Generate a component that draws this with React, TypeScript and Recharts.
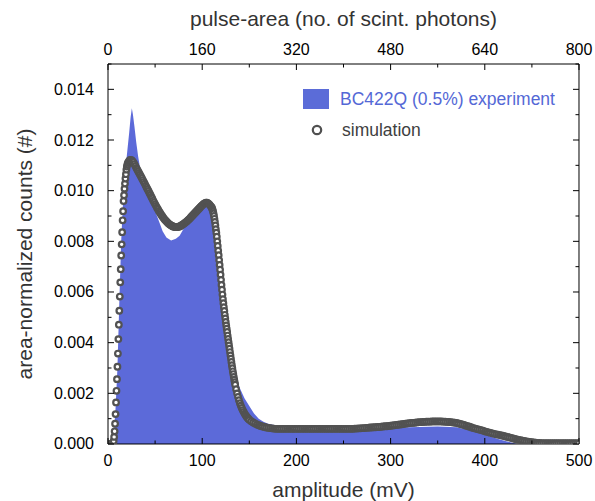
import React from 'react';
import { ComposedChart, Area, Scatter, XAxis, YAxis, Legend } from 'recharts';

// amplitude (mV) -> area-normalized counts
const experiment: [number, number][] = [
  [0, 0], [4, 0], [6, 0.0003], [8, 0.0014], [10, 0.003], [12, 0.0056], [14, 0.008], [16, 0.0096],
  [18, 0.0106], [20, 0.0114], [22.5, 0.0123], [24, 0.0129], [25.3, 0.01325], [26.5, 0.013],
  [28, 0.01255], [30, 0.0119], [32, 0.01135], [34, 0.0109], [36, 0.01055], [40, 0.0101],
  [45, 0.0096], [50, 0.0092], [55, 0.0087], [58, 0.0084], [62, 0.00815], [67, 0.00803],
  [72, 0.0081], [76, 0.00822], [81, 0.00855], [86, 0.0088], [92, 0.0091], [98, 0.0093],
  [104, 0.00948], [108, 0.0094], [112, 0.0089], [116, 0.0081], [120, 0.0069], [124, 0.0056],
  [128, 0.0044], [132, 0.0034], [136, 0.0027], [140, 0.0022], [145, 0.0018], [150, 0.0015],
  [155, 0.0012], [160, 0.001], [165, 0.00088], [170, 0.0008], [180, 0.00072], [200, 0.00065],
  [250, 0.00063], [290, 0.00063], [320, 0.00066], [350, 0.00069], [370, 0.00066], [385, 0.00053],
  [400, 0.00036], [415, 0.00019], [428, 0.00006], [435, 0], [500, 0],
];

const simulation: [number, number][] = [
  [0, 0], [1, 0], [2, 0], [3, 0], [4, 0], [5, 0.00001],
  [5.5, 0.00003], [6, 0.00012], [6.5, 0.00028], [7, 0.0005], [7.5, 0.0008], [8, 0.00118],
  [8.5, 0.00164], [9, 0.0021], [9.5, 0.00256], [10, 0.00305], [10.5, 0.00357], [11, 0.00414],
  [11.5, 0.00471], [12, 0.00526], [12.5, 0.00582], [13, 0.00638], [13.5, 0.0069], [14, 0.00744],
  [14.5, 0.00788], [15, 0.00836], [15.5, 0.00883], [16, 0.00919], [16.5, 0.00959], [17, 0.00982],
  [17.5, 0.01008], [18, 0.01028], [18.5, 0.01048], [19, 0.01065], [19.5, 0.01083], [20, 0.01095],
  [20.5, 0.01103], [21, 0.0111], [22, 0.01116], [23, 0.0112], [24, 0.01121], [25, 0.0112],
  [26, 0.01117], [27, 0.01112], [28, 0.01105], [29, 0.01098], [30, 0.0109],
  [31, 0.01084], [32, 0.01077], [33, 0.0107], [34, 0.01063], [35, 0.01056], [36, 0.01049],
  [37, 0.01042], [38, 0.01035], [39, 0.01028], [40, 0.0102], [41, 0.01013], [42, 0.01006],
  [43, 0.00999], [44, 0.00991], [45, 0.00984], [46, 0.00976], [47, 0.00969], [48, 0.00961],
  [49, 0.00954], [50, 0.00947], [51, 0.0094], [52, 0.00933], [53, 0.00927], [54, 0.0092],
  [55, 0.00914], [56, 0.00908], [57, 0.00902], [58, 0.00897], [59, 0.00892], [60, 0.00887],
  [61, 0.00883], [62, 0.00879], [63, 0.00875], [64, 0.00871], [65, 0.00868], [66, 0.00865],
  [67, 0.00863], [68, 0.00861], [69, 0.00859], [70, 0.00858], [71, 0.00857], [72, 0.00856],
  [73, 0.00856], [74, 0.00857], [75, 0.00858], [76, 0.00859], [77, 0.00861], [78, 0.00863],
  [79, 0.00866], [80, 0.00868], [81, 0.00871], [82, 0.00874], [83, 0.00877], [84, 0.0088],
  [85, 0.00884], [86, 0.00887], [87, 0.00891], [88, 0.00895], [89, 0.00899], [90, 0.00903],
  [91, 0.00907], [92, 0.00911], [93, 0.00915], [94, 0.00919], [95, 0.00923], [96, 0.00927],
  [97, 0.00931], [98, 0.00935], [99, 0.00939], [100, 0.00942], [101, 0.00946], [102, 0.00949],
  [103, 0.00951], [104, 0.00953], [105, 0.00953], [106, 0.00951], [107, 0.00948], [108, 0.00944],
  [109, 0.00939], [110, 0.00935], [110.5, 0.0093], [111, 0.00925], [111.5, 0.00918], [112, 0.0091],
  [112.5, 0.009], [113, 0.00889], [113.5, 0.00877], [114, 0.00863], [114.5, 0.00848], [115, 0.00834],
  [115.5, 0.00818], [116, 0.008], [116.5, 0.00782], [117, 0.00763], [117.5, 0.00745], [118, 0.00726],
  [118.5, 0.00707], [119, 0.00688], [119.5, 0.00668], [120, 0.00648], [120.5, 0.00628], [121, 0.00609],
  [121.5, 0.0059], [122, 0.00572], [122.5, 0.00556], [123, 0.0054], [123.5, 0.00525], [124, 0.0051],
  [124.5, 0.00496], [125, 0.00482], [125.5, 0.00468], [126, 0.00455], [126.5, 0.00442], [127, 0.00428],
  [127.5, 0.00415], [128, 0.00402], [128.5, 0.00389], [129, 0.00376], [129.5, 0.00363], [130, 0.0035],
  [130.5, 0.00337], [131, 0.00324], [131.5, 0.00311], [132, 0.00299], [132.5, 0.00287], [133, 0.00276],
  [133.5, 0.00265], [134, 0.00254], [134.5, 0.00244], [135, 0.00234], [136, 0.00216], [137, 0.002],
  [138, 0.00186], [139, 0.00173], [140, 0.00161], [141, 0.00151], [142, 0.00142], [143, 0.00134],
  [144, 0.00127], [145, 0.0012], [146, 0.00114], [147, 0.00109], [148, 0.00104], [149, 0.001],
  [150, 0.00096], [152, 0.0009], [154, 0.00085], [156, 0.00081], [158, 0.00077], [160, 0.00074],
  [162, 0.00071], [164, 0.00069], [166, 0.00067], [168, 0.00065], [170, 0.00064], [172, 0.00063],
  [174, 0.00062], [176, 0.00061], [178, 0.0006], [180, 0.0006], [182, 0.0006], [184, 0.0006],
  [186, 0.0006], [188, 0.0006], [190, 0.0006], [192, 0.0006], [194, 0.0006], [196, 0.0006],
  [198, 0.0006], [200, 0.0006], [202, 0.0006], [204, 0.0006], [206, 0.0006], [208, 0.0006],
  [210, 0.0006], [212, 0.0006], [214, 0.0006], [216, 0.0006], [218, 0.0006], [220, 0.0006],
  [222, 0.0006], [224, 0.0006], [226, 0.0006], [228, 0.0006], [230, 0.0006], [232, 0.0006],
  [234, 0.0006], [236, 0.0006], [238, 0.0006], [240, 0.0006], [242, 0.0006], [244, 0.0006],
  [246, 0.0006], [248, 0.0006], [250, 0.0006], [252, 0.0006], [254, 0.0006], [256, 0.0006],
  [258, 0.0006], [260, 0.0006], [262, 0.00061], [264, 0.00061], [266, 0.00062], [268, 0.00062],
  [270, 0.00063], [272, 0.00063], [274, 0.00064], [276, 0.00064], [278, 0.00065], [280, 0.00065],
  [282, 0.00066], [284, 0.00066], [286, 0.00067], [288, 0.00067], [290, 0.00068], [292, 0.00069],
  [294, 0.0007], [296, 0.0007], [298, 0.00071], [300, 0.00072], [302, 0.00073], [304, 0.00074],
  [306, 0.00075], [308, 0.00076], [310, 0.00077], [312, 0.00078], [314, 0.00079], [316, 0.0008],
  [318, 0.00081], [320, 0.00082], [322, 0.00083], [324, 0.00083], [326, 0.00084], [328, 0.00085],
  [330, 0.00086], [332, 0.00086], [334, 0.00087], [336, 0.00087], [338, 0.00088], [340, 0.00088],
  [342, 0.00088], [344, 0.00089], [346, 0.00089], [348, 0.00089], [350, 0.00089], [352, 0.00089],
  [354, 0.00089], [356, 0.00088], [358, 0.00088], [360, 0.00087], [362, 0.00087], [364, 0.00086],
  [366, 0.00085], [368, 0.00084], [370, 0.00083], [372, 0.00081], [374, 0.00079], [376, 0.00077],
  [378, 0.00075], [380, 0.00072], [382, 0.0007], [384, 0.00068], [386, 0.00065], [388, 0.00063],
  [390, 0.00061], [392, 0.00059], [394, 0.00057], [396, 0.00055], [398, 0.00053], [400, 0.0005],
  [402, 0.00048], [404, 0.00046], [406, 0.00044], [408, 0.00042], [410, 0.0004], [412, 0.00038],
  [414, 0.00037], [416, 0.00035], [418, 0.00034], [420, 0.00032], [422, 0.0003], [424, 0.00028],
  [426, 0.00026], [428, 0.00024], [430, 0.00022], [432, 0.0002], [434, 0.00018], [436, 0.00016],
  [438, 0.00015], [440, 0.00013], [442, 0.00012], [444, 0.0001], [446, 0.00009], [448, 0.00008],
  [450, 0.00007], [452, 0.00006], [454, 0.00005], [456, 0.00004], [458, 0.00004], [460, 0.00003],
  [462, 0.00003], [464, 0.00003], [466, 0.00003], [468, 0.00003], [470, 0.00003], [472, 0.00003],
  [474, 0.00003], [476, 0.00003], [478, 0.00003], [480, 0.00003], [482, 0.00003], [484, 0.00003],
  [486, 0.00003], [488, 0.00003], [490, 0.00003], [492, 0.00003], [494, 0.00003], [496, 0.00003],
  [498, 0.00003], [500, 0.00003],
];

const bottomTicks = [0, 50, 100, 150, 200, 250, 300, 350, 400, 450, 500];
const bottomLabels = [0, 100, 200, 300, 400, 500];
const topTicks = [0, 80, 160, 240, 320, 400, 480, 560, 640, 720, 800];
const topLabels = [0, 160, 320, 480, 640, 800];
const yTicks = [0, 0.001, 0.002, 0.003, 0.004, 0.005, 0.006, 0.007, 0.008, 0.009, 0.01, 0.011, 0.012, 0.013, 0.014, 0.015];
const yLabels = [0, 0.002, 0.004, 0.006, 0.008, 0.01, 0.012, 0.014];
const PHOTONS_PER_MV = 800 / 500; // top axis is the same range expressed in scint. photons

const FONT = '"Liberation Sans", Arial, Helvetica, sans-serif';
const W = 595;
const H = 501;
const TH = 0.01; // near-zero axis thickness so axes do not shift the plot area
const M = { top: 64, right: 16, bottom: 57, left: 108 };
const plotCx = M.left + (W - M.left - M.right) / 2;
const plotCy = M.top + (H - M.top - M.bottom) / 2;
const MAJ = 6;
const MIN = 3.5;

const expData = experiment.map(([x, y]) => ({ x, y }));
const simData = simulation.map(([x, y]) => ({ x, y }));

const isIn = (list: number[], v: number) => list.some((t) => Math.abs(t - v) < 1e-9);

const Ring = (p: any) => (
  <circle cx={p.cx} cy={p.cy} r={2.8} fill="#ffffff" stroke="#525252" strokeWidth={2.2} />
);

const labelStyle = { fontFamily: FONT, fontSize: 16, fill: '#000' };

const BOTTOM_MARGIN = 10;
const BottomTick = (p: any) => {
  const v = p.payload.value;
  const major = isIn(bottomLabels, v);
  const ay = p.y - BOTTOM_MARGIN;
  return (
    <g>
      <line x1={p.x} x2={p.x} y1={ay} y2={ay - (major ? MAJ : MIN)} stroke="#000" strokeWidth={1} />
      {major && (
        <text x={p.x} y={ay + 16.5} textAnchor="middle" dominantBaseline="central" style={labelStyle}>{v}</text>
      )}
    </g>
  );
};

const TopTick = (p: any) => {
  const v = p.payload.value;
  const major = isIn(topLabels, v);
  const ay = p.y;
  return (
    <g>
      <line x1={p.x} x2={p.x} y1={ay} y2={ay + (major ? MAJ : MIN)} stroke="#000" strokeWidth={1} />
      {major && (
        <text x={p.x} y={ay - 15} textAnchor="middle" dominantBaseline="central" style={labelStyle}>{v}</text>
      )}
    </g>
  );
};

const LEFT_MARGIN = 14;
const LeftTick = (p: any) => {
  const v = p.payload.value;
  const major = isIn(yLabels, v);
  const ax = p.x + LEFT_MARGIN;
  return (
    <g>
      <line x1={ax} x2={ax + (major ? MAJ : MIN)} y1={p.y} y2={p.y} stroke="#000" strokeWidth={1} />
      {major && (
        <text x={p.x} y={p.y} textAnchor="end" dominantBaseline="central" style={labelStyle}>{v.toFixed(3)}</text>
      )}
    </g>
  );
};

const RightTick = (p: any) => {
  const v = p.payload.value;
  const major = isIn(yLabels, v);
  return (
    <line x1={p.x} x2={p.x - (major ? MAJ : MIN)} y1={p.y} y2={p.y} stroke="#000" strokeWidth={1} />
  );
};

const LegendBox = () => (
  <div style={{ position: 'relative', width: 280, height: 62, fontFamily: FONT, fontSize: 17.5 }}>
    <div style={{ position: 'absolute', left: 3, top: 4, width: 26, height: 20, background: '#5b6cd8' }} />
    <div style={{ position: 'absolute', left: 40, top: 0, lineHeight: '28px', color: '#5468d6', whiteSpace: 'nowrap' }}>
      BC422Q (0.5%) experiment
    </div>
    <svg style={{ position: 'absolute', left: 9, top: 37 }} width={16} height={16}>
      <circle cx={8} cy={8} r={4.2} fill="#fff" stroke="#505050" strokeWidth={2.2} />
    </svg>
    <div style={{ position: 'absolute', left: 42, top: 31, lineHeight: '28px', color: '#404040', whiteSpace: 'nowrap' }}>
      simulation
    </div>
  </div>
);

export default function App() {
  return (
    <div style={{ position: 'absolute', left: 0, top: 0, width: W, height: H, background: '#fff' }}>
      <ComposedChart width={W} height={H} margin={M}>
        <XAxis
          xAxisId="b" dataKey="x" type="number" domain={[0, 500]} ticks={bottomTicks} interval={0}
          allowDataOverflow height={TH} tickLine={false} tickSize={0} tickMargin={BOTTOM_MARGIN}
          axisLine={{ stroke: '#000', strokeWidth: 1 }} tick={<BottomTick />}
          label={{
            content: () => (
              <text x={plotCx} y={489} textAnchor="middle" dominantBaseline="central"
                style={{ fontFamily: FONT, fontSize: 21, fill: '#333' }}>amplitude (mV)</text>
            ),
          }}
        />
        <XAxis
          xAxisId="t" orientation="top" dataKey={(d: any) => d.x * PHOTONS_PER_MV} type="number"
          domain={[0, 800]} ticks={topTicks} interval={0}
          allowDataOverflow height={TH} tickLine={false} tickSize={0} tickMargin={0}
          axisLine={{ stroke: '#000' }} tick={<TopTick />}
          label={{
            content: () => (
              <text x={plotCx} y={18} textAnchor="middle" dominantBaseline="central"
                style={{ fontFamily: FONT, fontSize: 21, fill: '#333' }}>pulse-area (no. of scint. photons)</text>
            ),
          }}
        />
        <YAxis
          yAxisId="l" type="number" domain={[0, 0.015]} ticks={yTicks} interval={0} allowDataOverflow
          width={TH} tickLine={false} tickSize={0} tickMargin={LEFT_MARGIN} axisLine={{ stroke: '#000' }}
          tick={<LeftTick />}
          label={{
            content: () => (
              <text x={24} y={plotCy} textAnchor="middle" dominantBaseline="central"
                transform={`rotate(-90 24 ${plotCy})`}
                style={{ fontFamily: FONT, fontSize: 21, fill: '#333' }}>area-normalized counts (#)</text>
            ),
          }}
        />
        <YAxis yAxisId="r" orientation="right" type="number" domain={[0, 0.015]} ticks={yTicks} interval={0}
          allowDataOverflow width={TH} tickLine={false} tickSize={0} tickMargin={0}
          axisLine={{ stroke: '#000' }} tick={<RightTick />} />

        <Area
          xAxisId="b" yAxisId="l" data={expData} dataKey="y" type="linear"
          stroke="none" fill="rgb(0,22,196)" fillOpacity={0.64} isAnimationActive={false}
          name="BC422Q (0.5%) experiment"
        />
        <Scatter
          xAxisId="t" yAxisId="r" data={simData} dataKey="y" shape={Ring}
          isAnimationActive={false} name="simulation"
        />
        <Legend
          verticalAlign="middle" layout="horizontal"
          wrapperStyle={{ position: 'absolute', left: 300, top: 85, width: 280, height: 62 }}
          content={() => <LegendBox />}
        />
      </ComposedChart>
    </div>
  );
}
